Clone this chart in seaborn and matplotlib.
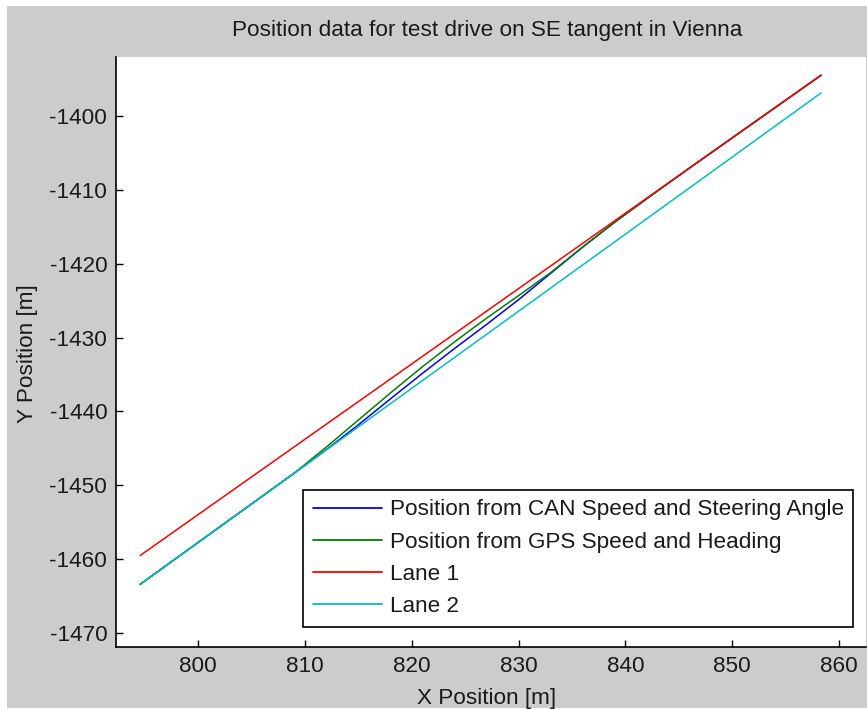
import matplotlib
matplotlib.use("Agg")
import matplotlib.pyplot as plt
import pandas as pd
import seaborn as sns
from matplotlib.patches import Rectangle

# ---------------- data ----------------
title = "Position data for test drive on SE tangent in Vienna"
x_label = "X Position [m]"
y_label = "Y Position [m]"
x_ticks = [800, 810, 820, 830, 840, 850, 860]
y_ticks = [-1470, -1460, -1450, -1440, -1430, -1420, -1410, -1400]

series_names = [
    "Position from CAN Speed and Steering Angle",
    "Position from GPS Speed and Heading",
    "Lane 1",
    "Lane 2",
]
series_colors = ["#0000ff", "#008000", "#ff0000", "#00bfbf"]

can_x = [794.6, 800.0, 805.0, 809.0, 812.0, 815.0, 818.0, 821.0, 824.0, 827.0, 830.0,
         833.0, 836.0, 839.0, 842.0, 846.0, 858.3]
can_y = [-1463.4, -1457.76, -1452.54, -1448.37, -1445.20, -1441.83, -1438.32, -1434.86,
         -1431.50, -1428.24, -1424.88, -1421.32, -1417.76, -1414.39, -1411.21, -1407.05,
         -1394.5]

gps_x = [794.6, 800.0, 805.0, 809.0, 812.0, 815.0, 818.0, 821.0, 824.0, 827.0, 830.0,
         833.0, 836.0, 839.0, 842.0, 846.0, 858.3]
gps_y = [-1463.4, -1457.76, -1452.54, -1448.37, -1444.85, -1441.18, -1437.52, -1433.96,
         -1430.60, -1427.39, -1424.33, -1421.22, -1417.76, -1414.39, -1411.21, -1407.05,
         -1394.5]

lane1_x = [794.6, 858.3]
lane1_y = [-1459.5, -1394.5]

lane2_x = [794.6, 858.3]
lane2_y = [-1463.4, -1396.9]

x_limits = (792.38, 862.5)
y_limits = (-1471.8, -1392.0)

# ---------------- build table ----------------
frames = []
for name, xs, ys in zip(series_names,
                        [can_x, gps_x, lane1_x, lane2_x],
                        [can_y, gps_y, lane1_y, lane2_y]):
    frames.append(pd.DataFrame({"x": xs, "y": ys, "series": name}))
df = pd.concat(frames, ignore_index=True)

# ---------------- styling ----------------
sns.set_theme(style="white")
plt.rcParams["font.family"] = ["Liberation Sans", "DejaVu Sans"]
FS = 16.2
W, H = 867, 709

fig = plt.figure(figsize=(W / 100, H / 100), dpi=100, facecolor="white")
fig.patches.append(Rectangle((7 / W, 1 / H), 1, (H - 7) / H, transform=fig.transFigure,
                             facecolor="#cccccc", edgecolor="none", zorder=-10))

ax_l, ax_r, ax_t, ax_b = 116.3, 866.0, 56.7, 646.5
ax = fig.add_axes([ax_l / W, 1 - ax_b / H, (ax_r - ax_l) / W, (ax_b - ax_t) / H])
ax.set_facecolor("white")

sns.lineplot(data=df, x="x", y="y", hue="series", hue_order=series_names,
             palette=dict(zip(series_names, series_colors)), sort=False,
             estimator=None, linewidth=1.1, ax=ax, legend=True)

ax.set_xlim(*x_limits)
ax.set_ylim(*y_limits)
ax.set_xticks(x_ticks)
ax.set_yticks(y_ticks)
ax.set_xticklabels([str(t) for t in x_ticks])
ax.set_yticklabels([str(t) for t in y_ticks])

for side in ["top", "right"]:
    ax.spines[side].set_visible(False)
for side in ["left", "bottom"]:
    ax.spines[side].set_color("black")
    ax.spines[side].set_linewidth(1.2)

ax.tick_params(axis="both", direction="in", length=5, width=1.0, color="black",
               labelsize=FS, labelcolor="#1a1a1a", left=True, bottom=True)
ax.tick_params(axis="x", pad=7.0)
ax.tick_params(axis="y", pad=6.5)

center_x = (486.7 - ax_l) / (ax_r - ax_l)
ax.set_title(title, fontsize=FS, color="#1a1a1a", pad=15, x=center_x)
ax.set_xlabel(x_label, fontsize=FS, color="#1a1a1a")
ax.set_ylabel(y_label, fontsize=FS, color="#1a1a1a")
ax.xaxis.set_label_coords(center_x, -(688.0 - ax_b) / (ax_b - ax_t))
ax.yaxis.set_label_coords(-(116.3 - 38.0) / (ax_r - ax_l), 0.497)

handles, labels = ax.get_legend_handles_labels()
leg = ax.legend(handles, labels, loc="lower right",
                bbox_to_anchor=((853.3 - ax_l) / (ax_r - ax_l), (ax_b - 626.7) / (ax_b - ax_t)),
                borderaxespad=0, frameon=True, fancybox=False, framealpha=1,
                edgecolor="black", facecolor="white", fontsize=FS,
                handlelength=3.1, handletextpad=0.33, labelspacing=0.5, borderpad=0.42)
leg.get_frame().set_linewidth(1.2)
for t in leg.get_texts():
    t.set_color("#1a1a1a")
for l in leg.get_lines():
    l.set_linewidth(1.3)

fig.savefig("out.png", dpi=100, facecolor=fig.get_facecolor())
